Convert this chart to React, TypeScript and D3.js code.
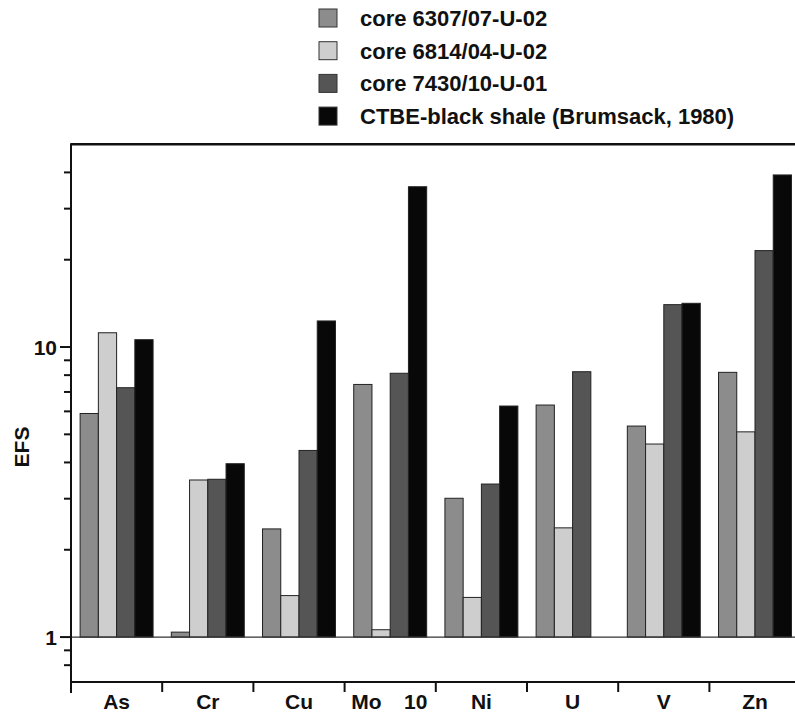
import React from 'react';
import * as d3 from 'd3';

// elements on the x axis
const elements = ['As', 'Cr', 'Cu', 'Mo', 'Ni', 'U', 'V', 'Zn'];

// series names (legend order)
const seriesNames = [
    'core 6307/07-U-02',
    'core 6814/04-U-02',
    'core 7430/10-U-01',
    'CTBE-black shale (Brumsack, 1980)'
];

// enrichment factors, one array per series
const core6307 = [5.9, 1.04, 2.36, 7.43, 3.01, 6.31, 5.34, 8.18];
const core6814 = [11.2, 3.48, 1.39, 1.06, 1.37, 2.38, 4.63, 5.1];
const core7430 = [7.24, 3.5, 4.4, 8.12, 3.37, 8.22, 14.0, 21.5];
const ctbe = [10.6, 3.96, 12.3, 35.7, 6.26, null, 14.15, 39.2];

const majorTicks = [1, 10];
const minorTicks = [0.8, 0.9, 2, 3, 4, 5, 6, 7, 8, 9, 20, 30, 40];

const fills = ['#8c8c8c', '#cecece', '#555555', '#080808'];
const FONT = '"Liberation Sans", Arial, Helvetica, sans-serif';

export default function App() {
    const width = 795;
    const height = 713;
    const left = 71;
    const right = 800.6;
    const bottom = 682;
    const top = 144.3;

    const series = [core6307, core6814, core7430, ctbe];

    const x = d3.scaleBand().domain(elements).range([left, right]).padding(0);
    const bw = x.bandwidth();
    const inner = d3.scaleBand<number>()
        .domain(d3.range(series.length))
        .range([0, bw])
        .paddingInner(0)
        .paddingOuter(0.5);

    const y = d3.scaleLog().domain([0.7, 50]).range([bottom, top]);
    const base = y(1);

    const boundaries = elements.map((e) => x(e) as number);

    return (
        <svg width={width} height={height}
             style={{position: 'absolute', left: 0, top: 0, background: '#fff'}}
             fontFamily={FONT}>
            {/* legend */}
            {seriesNames.map((name, i) => {
                const cy = 18 + i * 32.7;
                return (
                    <g key={name}>
                        <rect x={319} y={cy - 9} width={18} height={18}
                              fill={fills[i]} stroke="#333" strokeWidth={1}/>
                        <text x={360} y={cy + 8} fontSize={22} fontWeight="bold" fill="#111">{name}</text>
                    </g>
                );
            })}

            {/* bars */}
            {series.map((vals, si) => (
                <g key={si}>
                    {vals.map((v, ci) => {
                        if (v == null) return null;
                        const bx = (x(elements[ci]) as number) + (inner(si) as number);
                        const by = y(v);
                        return (
                            <rect key={ci} x={bx} y={by} width={inner.bandwidth()}
                                  height={base - by} fill={fills[si]}
                                  stroke="#222" strokeWidth={1}/>
                        );
                    })}
                </g>
            ))}

            {/* baseline at 1 */}
            <line x1={left} x2={right} y1={base} y2={base} stroke="#333" strokeWidth={1.2}/>

            {/* frame */}
            <line x1={left} x2={right} y1={top} y2={top} stroke="#111" strokeWidth={2.5}/>
            <line x1={left} x2={right} y1={bottom} y2={bottom} stroke="#111" strokeWidth={2}/>
            <line x1={left} x2={left} y1={top - 1} y2={bottom + 11} stroke="#111" strokeWidth={2}/>

            {/* x ticks */}
            {boundaries.slice(1).map((bx, i) => (
                <line key={i} x1={bx} x2={bx} y1={bottom} y2={bottom + 10} stroke="#111" strokeWidth={2}/>
            ))}

            {/* y ticks */}
            {minorTicks.map((t) => (
                <line key={t} x1={left - 7} x2={left} y1={y(t)} y2={y(t)} stroke="#111" strokeWidth={2}/>
            ))}
            {majorTicks.map((t) => (
                <g key={t}>
                    <line x1={left - 11} x2={left} y1={y(t)} y2={y(t)} stroke="#111" strokeWidth={2}/>
                    <text x={left - 14} y={y(t)} dy="0.36em" textAnchor="end"
                          fontSize={21} fontWeight="bold" fill="#111">{t}</text>
                </g>
            ))}

            {/* x labels */}
            {elements.map((e) => {
                const cx = e === 'Mo' ? (x(e) as number) + bw * 0.24 : (x(e) as number) + bw / 2;
                return (
                    <text key={e} x={cx} y={709} textAnchor="middle"
                          fontSize={21} fontWeight="bold" fill="#111">{e}</text>
                );
            })}
            <text x={(x('Mo') as number) + bw * 0.78} y={709} textAnchor="middle"
                  fontSize={21} fontWeight="bold" fill="#111">10</text>

            {/* y label */}
            <text transform={`translate(29, 447) rotate(-90)`} textAnchor="middle"
                  fontSize={21} fontWeight="bold" fill="#111">EFS</text>
        </svg>
    );
}
